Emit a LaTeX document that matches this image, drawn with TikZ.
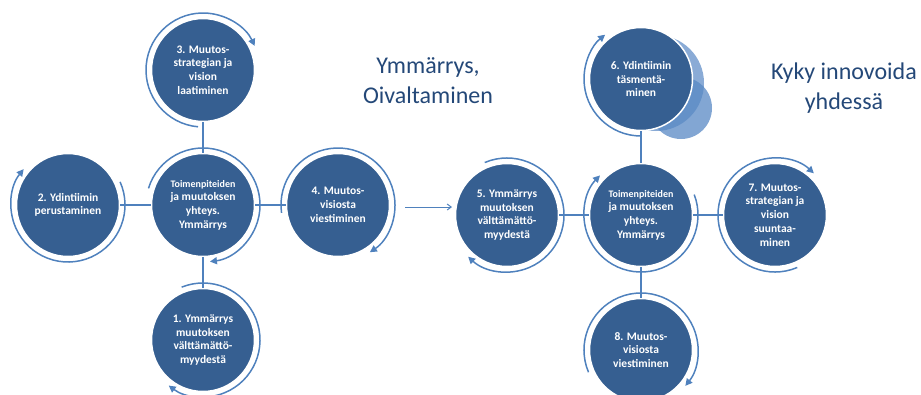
\documentclass[tikz,border=0pt]{standalone}
\usepackage{fontspec}
\setmainfont{Carlito}
\usetikzlibrary{arrows.meta}
\definecolor{discfill}{RGB}{54,95,145}
\definecolor{ringblue}{RGB}{79,129,189}
\definecolor{titleblue}{RGB}{36,72,120}
\definecolor{ghostblue}{RGB}{88,136,196}
\tikzset{
  disc/.style={circle, minimum size=103pt, inner sep=0pt, fill=discfill,
    draw=white, line width=1.5pt, text=white, align=center,
    font=\bfseries\fontsize{11.5}{13.7}\selectfont},
  conn/.style={draw=ringblue, line width=1.3pt},
  ring/.style={draw=ringblue, line width=1.5pt,
    -{Triangle[length=7pt,width=7pt]}},
  title/.style={text=titleblue, align=center,
    font=\fontsize{24}{30}\selectfont},
}
\newcommand{\smallline}[1]{{\fontsize{10}{13.7}\selectfont #1}}
\newcommand{\cyc}[3]{\draw[ring] ([shift={(#2:57)}]#1.center) arc[start angle=#2, end angle=#3, radius=57];}
\begin{document}
\begin{tikzpicture}[x=1pt,y=1pt]
\useasboundingbox (0,0) rectangle (921,-394);

% translucent echo behind disc 6
\fill[ghostblue, opacity=0.7] (656,-83) circle (48);
\fill[ghostblue, opacity=0.75] (681,-108) circle (31);

% left cluster
\node[disc] (c1) at (203,-205) {\smallline{Toimenpiteiden}\\ja muutoksen\\yhteys.\\Ymmärrys};
\node[disc] (n3) at (203,-70) {3. Muutos-\\strategian ja\\vision\\laatiminen};
\node[disc] (n2) at (68,-205) {2. Ydintiimin\\perustaminen};
\node[disc] (n4) at (338,-205) {4. Muutos-\\visiosta\\viestiminen};
\node[disc] (n1) at (203,-340) {1. Ymmärrys\\muutoksen\\välttämättö-\\myydestä};

% right cluster
\node[disc] (c2) at (641,-215) {\smallline{Toimenpiteiden}\\ja muutoksen\\yhteys.\\Ymmärrys};
\node[disc] (n6) at (641,-79) {6. Ydintiimin\\täsmentä-\\minen};
\node[disc] (n5) at (507,-215) {5. Ymmärrys\\muutoksen\\välttämättö-\\myydestä};
\node[disc] (n7) at (775,-215) {7. Muutos-\\strategian ja\\vision\\suuntaa-\\minen};
\node[disc] (n8) at (641,-350) {8. Muutos-\\visiosta\\viestiminen};

% spokes
\foreach \o in {n1,n2,n3,n4} \draw[conn] (c1) -- (\o);
\foreach \o in {n5,n6,n7,n8} \draw[conn] (c2) -- (\o);

% step from one cluster to the other
\coordinate (a0) at (405,-207);
\coordinate (a1) at (452,-207);
\draw[conn, line width=1pt, -{Straight Barb[length=4pt,width=6pt]}] (a0) -- (a1);

% cycle rings around the discs
\cyc{n3}{265}{25}
\cyc{n2}{24}{-219}
\cyc{c1}{163}{-83}
\cyc{n4}{188}{-56}
\cyc{n1}{112}{-127}
\cyc{n6}{270}{129}
\cyc{c2}{21}{-224}
\cyc{n5}{113}{-133}
\cyc{n7}{293}{47}
\cyc{n8}{203}{-39}

% headings
\node[title] (t1) at (428,-81) {Ymmärrys,\\Oivaltaminen};
\node[title] (t2) at (844,-88) {Kyky innovoida\\yhdessä};
\end{tikzpicture}
\end{document}
